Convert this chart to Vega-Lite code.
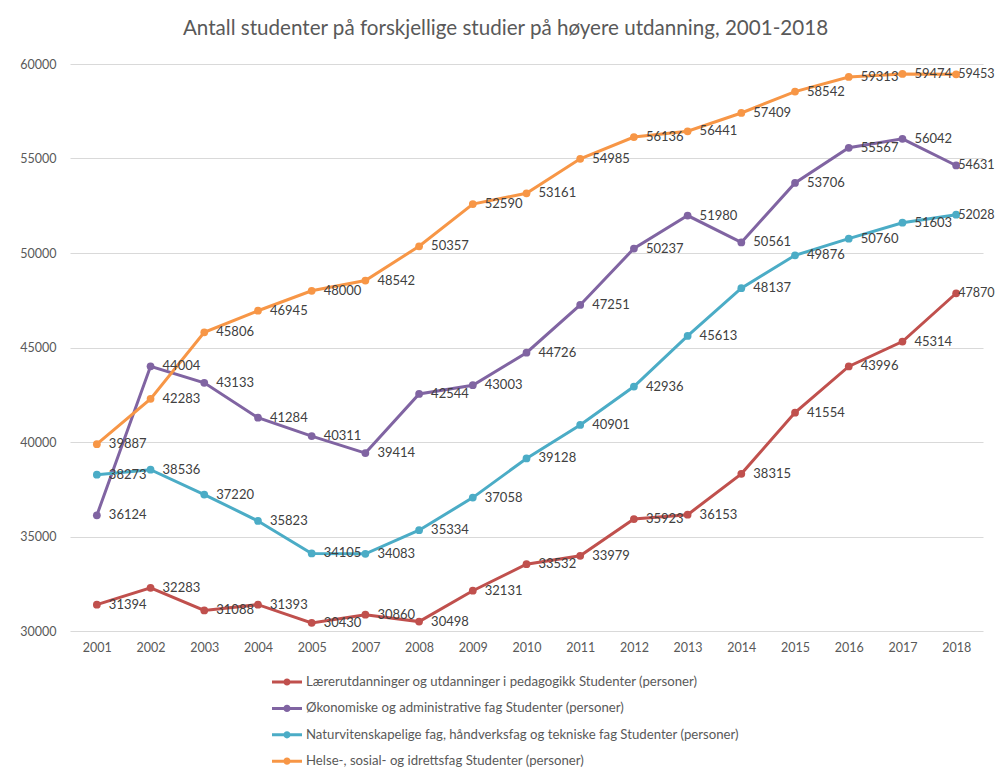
{
  "$schema": "https://vega.github.io/schema/vega-lite/v6.json",
  "autosize": {"type": "none"},
  "width": 913,
  "height": 567,
  "padding": {"left": 70, "top": 64, "right": 13, "bottom": 148},
  "background": "white",
  "title": {
    "text": "Antall studenter på forskjellige studier på høyere utdanning, 2001-2018",
    "font": "Lato",
    "fontSize": 20.6,
    "fontWeight": "normal",
    "color": "#595959",
    "anchor": "middle",
    "offset": 18,
    "dx": -21
  },
  "config": {
    "view": {"stroke": null},
    "font": "Lato"
  },
  "data": {
    "values": [
      {"year": "2001", "series": "Lærerutdanninger og utdanninger i pedagogikk Studenter (personer)", "value": 31394},
      {"year": "2002", "series": "Lærerutdanninger og utdanninger i pedagogikk Studenter (personer)", "value": 32283},
      {"year": "2003", "series": "Lærerutdanninger og utdanninger i pedagogikk Studenter (personer)", "value": 31088},
      {"year": "2004", "series": "Lærerutdanninger og utdanninger i pedagogikk Studenter (personer)", "value": 31393},
      {"year": "2005", "series": "Lærerutdanninger og utdanninger i pedagogikk Studenter (personer)", "value": 30430},
      {"year": "2007", "series": "Lærerutdanninger og utdanninger i pedagogikk Studenter (personer)", "value": 30860},
      {"year": "2008", "series": "Lærerutdanninger og utdanninger i pedagogikk Studenter (personer)", "value": 30498},
      {"year": "2009", "series": "Lærerutdanninger og utdanninger i pedagogikk Studenter (personer)", "value": 32131},
      {"year": "2010", "series": "Lærerutdanninger og utdanninger i pedagogikk Studenter (personer)", "value": 33532},
      {"year": "2011", "series": "Lærerutdanninger og utdanninger i pedagogikk Studenter (personer)", "value": 33979},
      {"year": "2012", "series": "Lærerutdanninger og utdanninger i pedagogikk Studenter (personer)", "value": 35923},
      {"year": "2013", "series": "Lærerutdanninger og utdanninger i pedagogikk Studenter (personer)", "value": 36153},
      {"year": "2014", "series": "Lærerutdanninger og utdanninger i pedagogikk Studenter (personer)", "value": 38315},
      {"year": "2015", "series": "Lærerutdanninger og utdanninger i pedagogikk Studenter (personer)", "value": 41554},
      {"year": "2016", "series": "Lærerutdanninger og utdanninger i pedagogikk Studenter (personer)", "value": 43996},
      {"year": "2017", "series": "Lærerutdanninger og utdanninger i pedagogikk Studenter (personer)", "value": 45314},
      {"year": "2018", "series": "Lærerutdanninger og utdanninger i pedagogikk Studenter (personer)", "value": 47870},
      {"year": "2001", "series": "Økonomiske og administrative fag Studenter (personer)", "value": 36124},
      {"year": "2002", "series": "Økonomiske og administrative fag Studenter (personer)", "value": 44004},
      {"year": "2003", "series": "Økonomiske og administrative fag Studenter (personer)", "value": 43133},
      {"year": "2004", "series": "Økonomiske og administrative fag Studenter (personer)", "value": 41284},
      {"year": "2005", "series": "Økonomiske og administrative fag Studenter (personer)", "value": 40311},
      {"year": "2007", "series": "Økonomiske og administrative fag Studenter (personer)", "value": 39414},
      {"year": "2008", "series": "Økonomiske og administrative fag Studenter (personer)", "value": 42544},
      {"year": "2009", "series": "Økonomiske og administrative fag Studenter (personer)", "value": 43003},
      {"year": "2010", "series": "Økonomiske og administrative fag Studenter (personer)", "value": 44726},
      {"year": "2011", "series": "Økonomiske og administrative fag Studenter (personer)", "value": 47251},
      {"year": "2012", "series": "Økonomiske og administrative fag Studenter (personer)", "value": 50237},
      {"year": "2013", "series": "Økonomiske og administrative fag Studenter (personer)", "value": 51980},
      {"year": "2014", "series": "Økonomiske og administrative fag Studenter (personer)", "value": 50561},
      {"year": "2015", "series": "Økonomiske og administrative fag Studenter (personer)", "value": 53706},
      {"year": "2016", "series": "Økonomiske og administrative fag Studenter (personer)", "value": 55567},
      {"year": "2017", "series": "Økonomiske og administrative fag Studenter (personer)", "value": 56042},
      {"year": "2018", "series": "Økonomiske og administrative fag Studenter (personer)", "value": 54631},
      {"year": "2001", "series": "Naturvitenskapelige fag, håndverksfag og tekniske fag Studenter (personer)", "value": 38273},
      {"year": "2002", "series": "Naturvitenskapelige fag, håndverksfag og tekniske fag Studenter (personer)", "value": 38536},
      {"year": "2003", "series": "Naturvitenskapelige fag, håndverksfag og tekniske fag Studenter (personer)", "value": 37220},
      {"year": "2004", "series": "Naturvitenskapelige fag, håndverksfag og tekniske fag Studenter (personer)", "value": 35823},
      {"year": "2005", "series": "Naturvitenskapelige fag, håndverksfag og tekniske fag Studenter (personer)", "value": 34105},
      {"year": "2007", "series": "Naturvitenskapelige fag, håndverksfag og tekniske fag Studenter (personer)", "value": 34083},
      {"year": "2008", "series": "Naturvitenskapelige fag, håndverksfag og tekniske fag Studenter (personer)", "value": 35334},
      {"year": "2009", "series": "Naturvitenskapelige fag, håndverksfag og tekniske fag Studenter (personer)", "value": 37058},
      {"year": "2010", "series": "Naturvitenskapelige fag, håndverksfag og tekniske fag Studenter (personer)", "value": 39128},
      {"year": "2011", "series": "Naturvitenskapelige fag, håndverksfag og tekniske fag Studenter (personer)", "value": 40901},
      {"year": "2012", "series": "Naturvitenskapelige fag, håndverksfag og tekniske fag Studenter (personer)", "value": 42936},
      {"year": "2013", "series": "Naturvitenskapelige fag, håndverksfag og tekniske fag Studenter (personer)", "value": 45613},
      {"year": "2014", "series": "Naturvitenskapelige fag, håndverksfag og tekniske fag Studenter (personer)", "value": 48137},
      {"year": "2015", "series": "Naturvitenskapelige fag, håndverksfag og tekniske fag Studenter (personer)", "value": 49876},
      {"year": "2016", "series": "Naturvitenskapelige fag, håndverksfag og tekniske fag Studenter (personer)", "value": 50760},
      {"year": "2017", "series": "Naturvitenskapelige fag, håndverksfag og tekniske fag Studenter (personer)", "value": 51603},
      {"year": "2018", "series": "Naturvitenskapelige fag, håndverksfag og tekniske fag Studenter (personer)", "value": 52028},
      {"year": "2001", "series": "Helse-, sosial- og idrettsfag Studenter (personer)", "value": 39887},
      {"year": "2002", "series": "Helse-, sosial- og idrettsfag Studenter (personer)", "value": 42283},
      {"year": "2003", "series": "Helse-, sosial- og idrettsfag Studenter (personer)", "value": 45806},
      {"year": "2004", "series": "Helse-, sosial- og idrettsfag Studenter (personer)", "value": 46945},
      {"year": "2005", "series": "Helse-, sosial- og idrettsfag Studenter (personer)", "value": 48000},
      {"year": "2007", "series": "Helse-, sosial- og idrettsfag Studenter (personer)", "value": 48542},
      {"year": "2008", "series": "Helse-, sosial- og idrettsfag Studenter (personer)", "value": 50357},
      {"year": "2009", "series": "Helse-, sosial- og idrettsfag Studenter (personer)", "value": 52590},
      {"year": "2010", "series": "Helse-, sosial- og idrettsfag Studenter (personer)", "value": 53161},
      {"year": "2011", "series": "Helse-, sosial- og idrettsfag Studenter (personer)", "value": 54985},
      {"year": "2012", "series": "Helse-, sosial- og idrettsfag Studenter (personer)", "value": 56136},
      {"year": "2013", "series": "Helse-, sosial- og idrettsfag Studenter (personer)", "value": 56441},
      {"year": "2014", "series": "Helse-, sosial- og idrettsfag Studenter (personer)", "value": 57409},
      {"year": "2015", "series": "Helse-, sosial- og idrettsfag Studenter (personer)", "value": 58542},
      {"year": "2016", "series": "Helse-, sosial- og idrettsfag Studenter (personer)", "value": 59313},
      {"year": "2017", "series": "Helse-, sosial- og idrettsfag Studenter (personer)", "value": 59474},
      {"year": "2018", "series": "Helse-, sosial- og idrettsfag Studenter (personer)", "value": 59453}
    ]
  },
  "encoding": {
    "x": {
      "field": "year",
      "type": "ordinal",
      "scale": {"type": "point", "padding": 0.5},
      "axis": {
        "title": null,
        "labelAngle": 0,
        "labelFont": "Lato",
        "labelFontSize": 12.5,
        "labelColor": "#595959",
        "labelPadding": 10,
        "domain": false,
        "ticks": false,
        "grid": false
      }
    },
    "y": {
      "field": "value",
      "type": "quantitative",
      "scale": {"domain": [30000, 60000], "nice": false, "zero": false},
      "axis": {
        "title": null,
        "values": [30000, 35000, 40000, 45000, 50000, 55000, 60000],
        "format": "d",
        "labelFont": "Lato",
        "labelFontSize": 12.5,
        "labelColor": "#595959",
        "labelPadding": 14,
        "domain": false,
        "ticks": false,
        "grid": true,
        "gridColor": "#D9D9D9",
        "gridWidth": 1
      }
    },
    "color": {
      "field": "series",
      "type": "nominal",
      "scale": {
        "domain": [
          "Lærerutdanninger og utdanninger i pedagogikk Studenter (personer)",
          "Økonomiske og administrative fag Studenter (personer)",
          "Naturvitenskapelige fag, håndverksfag og tekniske fag Studenter (personer)",
          "Helse-, sosial- og idrettsfag Studenter (personer)"
        ],
        "range": ["#C0504D", "#8064A2", "#4BACC6", "#F79646"]
      },
      "legend": {
        "title": null,
        "orient": "none",
        "legendX": 202,
        "legendY": 603,
        "direction": "vertical",
        "symbolType": "M-1,-0.1H1V0.1H-1Z M-0.24,0A0.24,0.24 0 1,1 0.24,0A0.24,0.24 0 1,1 -0.24,0Z",
        "symbolSize": 900,
        "symbolStrokeWidth": 0,
        "labelFont": "Lato",
        "labelFontSize": 13.2,
        "labelColor": "#595959",
        "labelOffset": 4,
        "labelLimit": 700,
        "rowPadding": 4.4,
        "encode": {
          "symbols": {
            "update": {
              "fill": {"scale": "color", "field": "value"},
              "fillOpacity": {"value": 1},
              "strokeWidth": {"value": 0}
            }
          }
        }
      }
    }
  },
  "layer": [
    {
      "mark": {"type": "line", "strokeWidth": 3},
      "encoding": {}
    },
    {
      "mark": {"type": "circle", "size": 60, "opacity": 1},
      "encoding": {}
    },
    {
      "transform": [{"filter": "datum.year != '2018'"}],
      "mark": {
        "type": "text",
        "align": "left",
        "baseline": "middle",
        "dx": 12,
        "font": "Lato",
        "fontSize": 13,
        "color": "#404040"
      },
      "encoding": {
        "text": {"field": "value", "type": "quantitative", "format": "d"},
        "color": {"value": "#404040"}
      }
    },
    {
      "transform": [{"filter": "datum.year == '2018'"}],
      "mark": {
        "type": "text",
        "align": "left",
        "baseline": "middle",
        "dx": 2,
        "font": "Lato",
        "fontSize": 12.6,
        "color": "#404040"
      },
      "encoding": {
        "text": {"field": "value", "type": "quantitative", "format": "d"},
        "color": {"value": "#404040"}
      }
    }
  ]
}
